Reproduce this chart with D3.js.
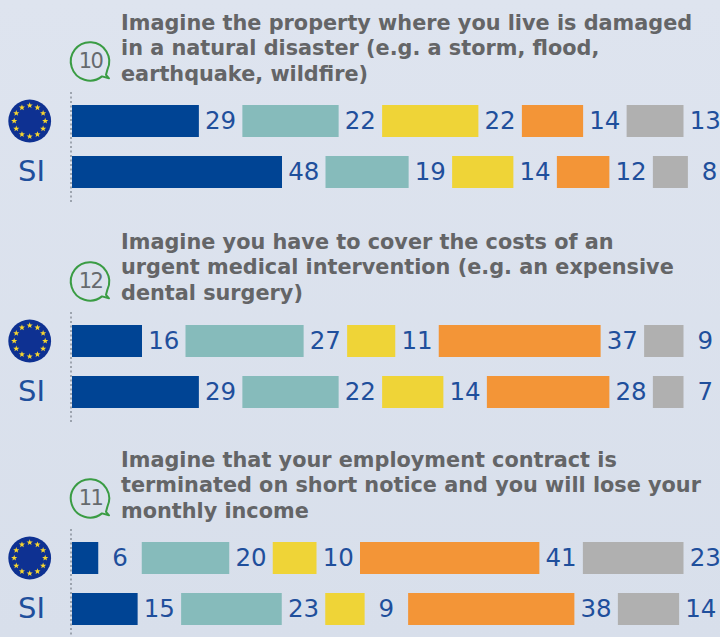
<!DOCTYPE html>
<html>
<head>
<meta charset="utf-8">
<script src="https://cdn.jsdelivr.net/npm/d3@7"></script>
<style>
    html, body { margin: 0; padding: 0; }
    svg { display: block; }
    text { font-family: "DejaVu Sans", sans-serif; }
</style>
</head>
<body>
<script>
/* ======================== DATA ========================= */
const rowNames    = ["EU", "SI"];
const answerKeys  = ["a", "b", "c", "d", "e"];
const answerColor = ["#004494", "#86bbbb", "#efd437", "#f39537", "#b0b0b0"];

const questionNums = ["10", "12", "11"];
const questionText = [
    ["Imagine the property where you live is damaged",
     "in a natural disaster (e.g. a storm, flood,",
     "earthquake, wildfire)"],
    ["Imagine you have to cover the costs of an",
     "urgent medical intervention (e.g. an expensive",
     "dental surgery)"],
    ["Imagine that your employment contract is",
     "terminated on short notice and you will lose your",
     "monthly income"]
];

const euValues = [
    [29, 22, 22, 14, 13],
    [16, 27, 11, 37, 9],
    [6, 20, 10, 41, 23]
];
const siValues = [
    [48, 19, 14, 12, 8],
    [29, 22, 14, 28, 7],
    [15, 23, 9, 38, 14]
];

/* ======================= LAYOUT ======================== */
const width = 720, height = 637;
const axisX = 72, labelGap = 43.5;
const groupTops = [0, 220, 437];
const titleTops = [29.7, 248.5, 466.7];

const x = d3.scaleLinear().domain([0, 100]).range([0, 437.5]);
const y = d3.scaleBand().domain(rowNames).range([105, 188]).paddingInner(0.3725).paddingOuter(0);

const svg = d3.select("body").append("svg")
    .attr("width", width)
    .attr("height", height);

const defs = svg.append("defs");
const bgGrad = defs.append("linearGradient")
    .attr("id", "bgGrad")
    .attr("x1", 0).attr("y1", 0).attr("x2", 0).attr("y2", 1);
bgGrad.append("stop").attr("offset", "0%").attr("stop-color", "#dee4ef");
bgGrad.append("stop").attr("offset", "100%").attr("stop-color", "#d8dfeb");

svg.append("rect")
    .attr("width", width)
    .attr("height", height)
    .attr("fill", "url(#bgGrad)");

/* =================== HELPER FUNCTIONS ================== */

function starPath(r) {
    const pts = d3.range(10).map(i => {
        const rad = i % 2 ? r * 0.42 : r;
        const a = i * Math.PI / 5;
        return [rad * Math.sin(a), -rad * Math.cos(a)];
    });
    return d3.line()(pts) + "Z";
}

function drawFlag(g, cy) {
    const flag = g.append("g").attr("transform", `translate(29.7,${cy})`);
    flag.append("circle").attr("r", 21.4).attr("fill", "#0e3192");
    flag.selectAll("path")
        .data(d3.range(12))
        .join("path")
        .attr("d", starPath(3.2))
        .attr("fill", "#f7d62f")
        .attr("transform", d => {
            const a = d * Math.PI / 6;
            return `translate(${15.5 * Math.sin(a)},${-15.5 * Math.cos(a)})`;
        });
}

function drawBubble(g, label) {
    const b = g.append("g").attr("transform", "translate(90.5,60.8)");
    b.append("path")
        .attr("d", "M 11.5,15.6 A 19.2,19.2 0 1 1 17,8.5 L 15.5,14 L 18.5,17.5 Z")
        .attr("fill", "none")
        .attr("stroke", "#3a9c44")
        .attr("stroke-width", 2)
        .attr("stroke-linejoin", "round");
    b.append("text")
        .attr("x", 0)
        .attr("y", 0)
        .attr("dy", "0.36em")
        .attr("text-anchor", "middle")
        .attr("font-size", 21)
        .attr("letter-spacing", "-1.5px")
        .attr("fill", "#666a6e")
        .text(label);
}

function segments(values) {
    let pos = axisX;
    return values.map((v, i) => {
        const seg = { key: answerKeys[i], value: v, start: pos, color: answerColor[i] };
        pos += x(v) + labelGap;
        return seg;
    });
}

/* ======================== CHART ======================== */

questionNums.forEach((num, q) => {
    const g = svg.append("g").attr("transform", `translate(0,${groupTops[q]})`);

    g.append("g")
        .selectAll("text")
        .data(questionText[q])
        .join("text")
        .attr("x", 121)
        .attr("y", (d, i) => titleTops[q] - groupTops[q] + i * 25.5)
        .attr("font-size", 20.8)
        .attr("font-weight", "bold")
        .attr("fill", "#646567")
        .text(d => d);

    drawBubble(g, num);

    g.append("line")
        .attr("x1", 71).attr("x2", 71)
        .attr("y1", 92).attr("y2", 204)
        .attr("stroke", "#5f6670")
        .attr("stroke-width", 1)
        .attr("stroke-dasharray", "2,2.5");

    drawFlag(g, y("EU") + y.bandwidth() / 2);

    g.append("text")
        .attr("x", 31.5)
        .attr("y", y("SI") + y.bandwidth() / 2 - 1)
        .attr("dy", "0.36em")
        .attr("text-anchor", "middle")
        .attr("font-size", 29)
        .attr("fill", "#1f4f9c")
        .text("SI");

    rowNames.forEach(name => {
        const values = name === "EU" ? euValues[q] : siValues[q];
        const row = g.append("g").attr("class", "row_" + name);

        row.selectAll("rect")
            .data(segments(values))
            .join("rect")
            .attr("x", d => d.start)
            .attr("y", y(name))
            .attr("width", d => x(d.value))
            .attr("height", y.bandwidth())
            .attr("fill", d => d.color);

        row.selectAll("text")
            .data(segments(values))
            .join("text")
            .attr("x", d => d.start + x(d.value) + labelGap / 2)
            .attr("y", y(name) + y.bandwidth() / 2)
            .attr("dy", "0.34em")
            .attr("text-anchor", "middle")
            .attr("font-size", 24.5)
            .attr("fill", "#1f4f9c")
            .text(d => d.value);
    });
});
</script>
</body>
</html>
